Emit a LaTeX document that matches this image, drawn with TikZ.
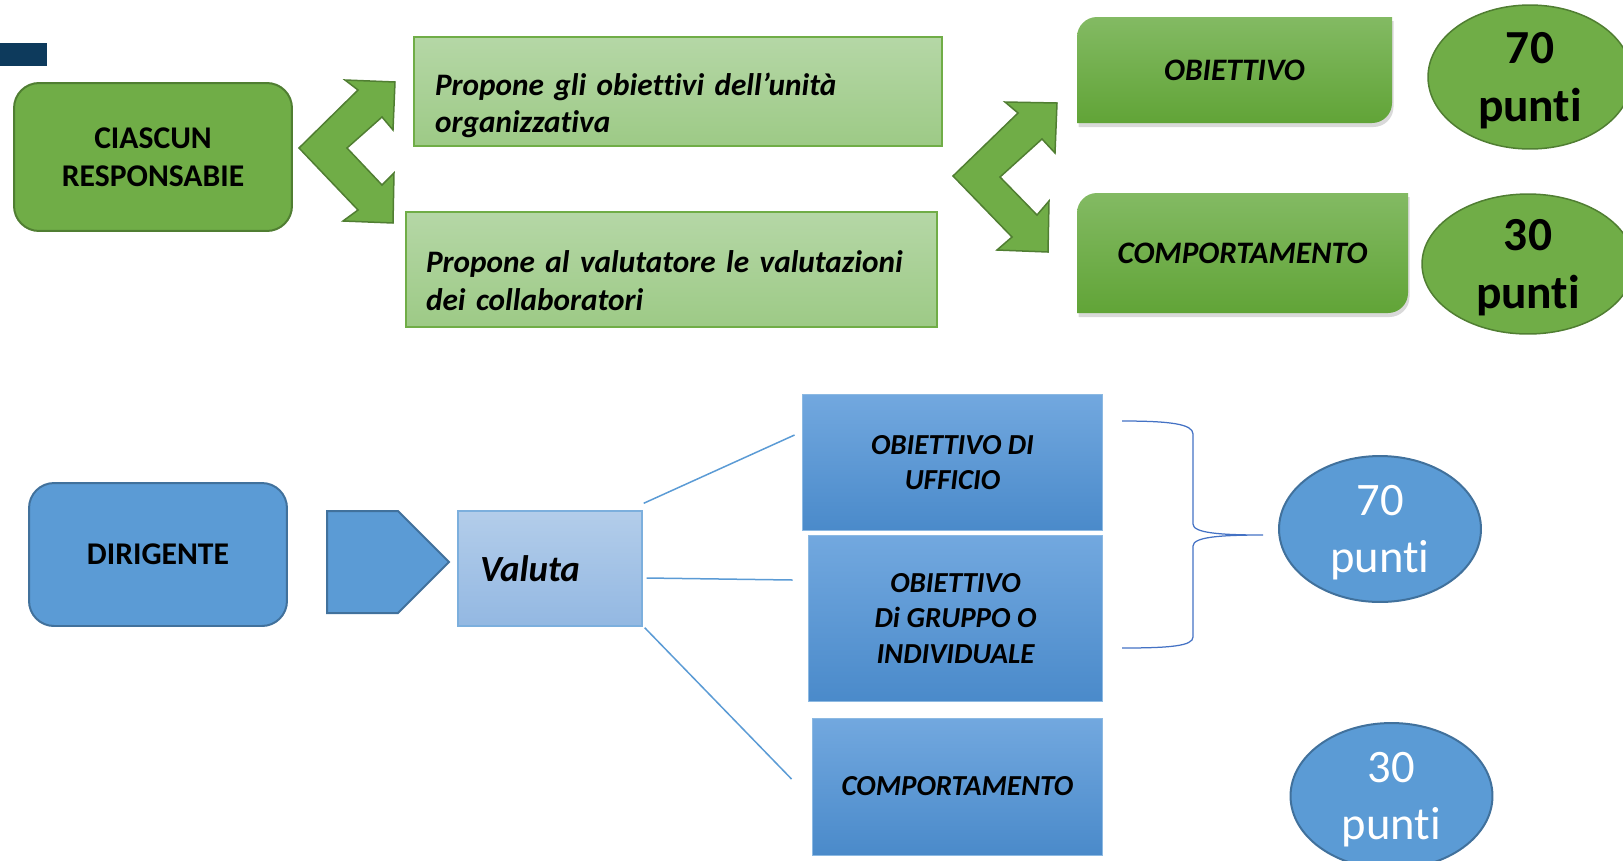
\documentclass[tikz,border=0pt]{standalone}
\usepackage{fontspec}
\setmainfont{Carlito}[Ligatures={NoCommon}]
\usetikzlibrary{positioning,shapes,shadows}
\definecolor{accgreen}{HTML}{70AD47}
\definecolor{greenline}{HTML}{507E32}
\definecolor{paletop}{HTML}{B5D7A6}
\definecolor{palebot}{HTML}{9DCA86}
\definecolor{goaltop}{HTML}{83BA63}
\definecolor{goalbot}{HTML}{61A437}
\definecolor{accblue}{HTML}{5B9BD5}
\definecolor{blueline}{HTML}{41719C}
\definecolor{valtop}{HTML}{B3CDEA}
\definecolor{valbot}{HTML}{93B8E2}
\definecolor{evaltop}{HTML}{72A8DF}
\definecolor{evalbot}{HTML}{4A8ACA}
\definecolor{bracecol}{HTML}{4472C4}
\definecolor{navy}{HTML}{0D3A5C}
\tikzset{
	greenbox/.style={
		rectangle,
		rounded corners=0.5cm,
		draw=greenline, line width=0.04cm,
		fill=accgreen,
		minimum width=5.56cm, minimum height=2.96cm,
		align=center,
		font=\fontsize{18}{21.5}\selectfont\bfseries,
	},
	propbox/.style={
		rectangle,
		draw=accgreen, line width=0.03cm,
		top color=paletop, bottom color=palebot,
		minimum width=10.56cm,
		inner xsep=0.42cm,
		align=left, text depth=8.8pt,
		font=\fontsize{17.8}{21.5}\selectfont\bfseries\itshape,
	},
	chevron/.style={
		fill=accgreen, draw=greenline, line width=0.03cm, line join=miter,
	},
	goalshape/.style={
		top color=goaltop, bottom color=goalbot,
		drop shadow={shadow xshift=0.03cm, shadow yshift=-0.08cm, opacity=0.3},
	},
	goaltext/.style={
		font=\fontsize{17.8}{21.5}\selectfont\bfseries\itshape,
	},
	greenball/.style={
		ellipse,
		fill=accgreen, draw=greenline, line width=0.03cm,
		inner sep=0pt,
		align=center, text depth=0pt,
		font=\fontsize{27}{32.8}\selectfont\bfseries,
	},
	bluebox/.style={
		rectangle,
		rounded corners=0.5cm,
		draw=blueline, line width=0.04cm,
		fill=accblue,
		minimum width=5.16cm, minimum height=2.86cm,
		font=\fontsize{18}{21.5}\selectfont\bfseries,
	},
	pentagon/.style={
		fill=accblue, draw=blueline, line width=0.04cm,
	},
	valbox/.style={
		rectangle,
		draw=accblue!80!white, line width=0.03cm,
		top color=valtop, bottom color=valbot,
		minimum width=3.68cm, minimum height=2.3cm,
		inner xsep=0.44cm, text width=2.8cm,
		align=left,
		font=\fontsize{21}{25}\selectfont\bfseries\itshape,
	},
	evalbox/.style={
		rectangle,
		draw=accblue!70!white, line width=0.02cm,
		top color=evaltop, bottom color=evalbot,
		align=center,
		font=\fontsize{16.5}{20}\selectfont\bfseries\itshape,
	},
	blueball/.style={
		ellipse,
		fill=accblue, draw=blueline, line width=0.04cm,
		minimum width=4.04cm, minimum height=2.92cm,
		inner sep=0pt,
		align=center, text=white, text depth=0pt,
		font=\fontsize{26.5}{32.3}\selectfont,
	},
	link/.style={draw=accblue, line width=0.03cm},
}

\begin{document}
\begin{tikzpicture}[x=0.02cm, y=-0.02cm]
\useasboundingbox (0,0) rectangle (1623,860);
\fill[navy] (0,43) rectangle (47,66);

\node	(resp)	[greenbox]	at (153,157)	{CIASCUN\\RESPONSABIE};
\node	(prop1)	[propbox, minimum height=2.18cm, text width=9.72cm]	at (678,91.5)	{Propone gli obiettivi dell’unità\\organizzativa};
\node	(prop2)	[propbox, minimum width=10.62cm, minimum height=2.3cm, inner xsep=0.4cm, text width=9.82cm]	at (671.5,269.5)	{Propone al valutatore le valutazioni\\dei collaboratori};

\filldraw[chevron] (299,148) -- (358,90) -- (345,80) -- (395,82) -- (393,130) -- (382,117) -- (347,148) -- (382,185) -- (394,173) -- (393,223) -- (343,221) -- (358,210) -- cycle;
\filldraw[chevron] (953,176) -- (1018,113) -- (1005,102) -- (1057,103) -- (1055,153) -- (1042,139) -- (1000,177) -- (1037,215) -- (1049,201) -- (1048,252) -- (997,250) -- (1012,237) -- cycle;

\shade[goalshape] (1077,123) -- (1077,37) arc[start angle=180, end angle=270, radius=20] -- (1392,17) -- (1392,103) arc[start angle=0, end angle=90, radius=20] -- cycle;
\shade[goalshape] (1077,313) -- (1077,213) arc[start angle=180, end angle=270, radius=20] -- (1408,193) -- (1408,293) arc[start angle=0, end angle=90, radius=20] -- cycle;
\node	(goal1)	[goaltext]	at (1234.5,70)	{OBIETTIVO};
\node	(goal2)	[goaltext]	at (1242.5,253)	{COMPORTAMENTO};

\node	(pts70)	[greenball, minimum width=4.08cm, minimum height=2.88cm]	at (1530,77)	{70\\punti};
\node	(pts30)	[greenball, minimum width=4.24cm, minimum height=2.8cm]	at (1528,264)	{30\\punti};

\node	(dir)	[bluebox]	at (158,554.5)	{DIRIGENTE};
\filldraw[pentagon] (327,511) -- (398,511) -- (449,562) -- (398,613) -- (327,613) -- cycle;
\node	(valuta)	[valbox]	at (550,568.5)	{Valuta};
\node	(ev1)	[evalbox, minimum width=6.02cm, minimum height=2.74cm]	at (952.5,462.5)	{OBIETTIVO DI\\UFFICIO};
\node	(ev2)	[evalbox, minimum width=5.9cm, minimum height=3.34cm]	at (955.5,618.5)	{OBIETTIVO\\Di GRUPPO O\\INDIVIDUALE};
\node	(ev3)	[evalbox, minimum width=5.82cm, minimum height=2.74cm]	at (957.5,786.5)	{COMPORTAMENTO};
\node	(pts70b)	[blueball]	at (1380,529)	{70\\punti};
\node	(pts30b)	[blueball]	at (1391.5,796)	{30\\punti};

\path[link] ([shift={(1,-7)}]valuta.north east) edge ([shift={(-7,-27.5)}]ev1.west);
\path[link] ([shift={(4,9.5)}]valuta.east) edge ([shift={(-15,-38.5)}]ev2.west);
\path[link] ([shift={(2,1)}]valuta.south east) edge ([shift={(-20,-7.5)}]ev3.west);

\draw[bracecol, line width=0.025cm] (1122,421) .. controls (1170,421) and (1193,424) .. (1193,434) -- (1193,524) .. controls (1193,533) and (1220,535) .. (1263,535) coordinate (tip) .. controls (1220,535) and (1193,537) .. (1193,546) -- (1193,637) .. controls (1193,646) and (1170,648) .. (1122,648);

\end{tikzpicture}
\end{document}
